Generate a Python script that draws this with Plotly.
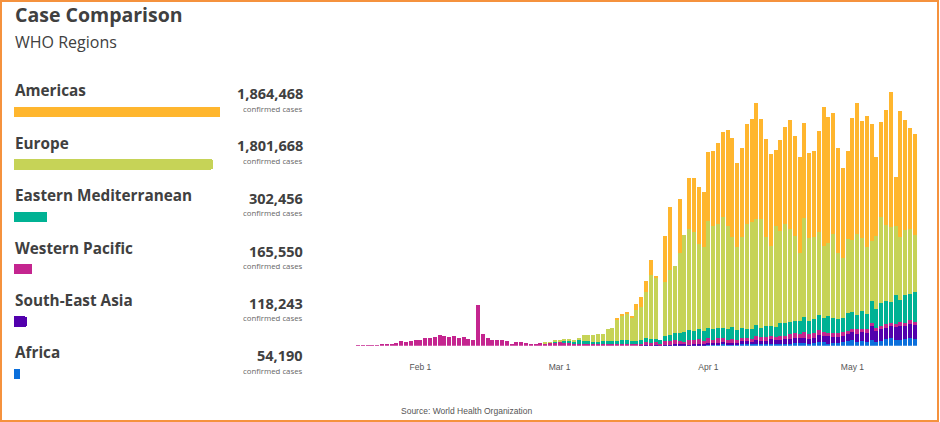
"""Case comparison by WHO region: totals on the left, daily new cases stacked on the right.

The source shows no y axis, so the daily values are relative heights read off
the picture. Each series lists its values up to the last day, May 14.
"""
import pandas as pd
import plotly.graph_objects as go

W, H = 940, 422

regions = ["Americas", "Europe", "Eastern Mediterranean", "Western Pacific",
           "South-East Asia", "Africa"]
totals = [1864468, 1801668, 302456, 165550, 118243, 54190]
colors = ["#FFB62E", "#C6D357", "#00B294", "#C4258F", "#5200AD", "#0B6FDB"]

dates = pd.date_range("2020-01-19", "2020-05-14", freq="D")
tick_dates = ["2020-02-01", "2020-03-01", "2020-04-01", "2020-05-01"]
tick_labels = ["Feb 1", "Mar 1", "Apr 1", "May 1"]

# from Mar 18
africa = [1, 1, 1, 1, 1, 1, 1, 2, 2, 2, 2, 2, 2, 2,
          3, 3, 3, 4, 3, 3, 3, 4, 4, 4, 4, 4, 4, 4, 4,
          4, 5, 5, 7, 7, 7, 5, 7, 12, 11, 5, 9, 7, 10, 14,
          17, 11, 13, 11, 17, 12, 14, 20, 23, 18, 17, 20, 22, 20]
# from Mar 18
se_asia = [1, 1, 1, 2, 1, 2, 2, 3, 2, 2, 1, 4, 3, 3,
           5, 4, 5, 6, 4, 5, 4, 11, 10, 8, 13, 10, 11, 16, 13,
           13, 14, 15, 15, 17, 17, 15, 15, 20, 18, 23, 17, 19, 20, 20,
           23, 24, 28, 28, 42, 33, 35, 34, 37, 37, 43, 39, 43, 42]
# from Jan 19
w_pacific = [1, 1, 1, 2, 2, 3, 5, 6, 8,
             14, 12, 15, 17, 17, 22, 24, 27, 32, 30, 26, 29, 22, 25, 20, 17, 122,
             34, 23, 17, 18, 17, 15, 6, 10, 11, 8, 5, 6, 7, 8, 9, 11,
             12, 9, 7, 6, 6, 5, 5, 5, 4, 4, 5, 4, 4, 4, 4, 4, 5,
             3, 9, 5, 7, 3, 10, 10, 11, 9, 8, 14, 12, 14, 9,
             15, 9, 14, 14, 11, 12, 11, 9, 10, 7, 12, 12, 11, 9, 9,
             12, 11, 14, 15, 11, 17, 15, 15, 15, 13, 11, 12, 12, 10, 9,
             9, 14, 8, 10, 8, 9, 11, 11, 8, 10, 11, 9, 11, 9]
# from Feb 29
e_med = [2,
         2, 7, 9, 8, 12, 10, 10, 7, 6, 9, 9, 10, 11, 13, 13, 10, 10,
         12, 11, 13, 10, 12, 16, 19, 23, 24, 29, 31, 27, 31, 31,
         30, 33, 31, 29, 33, 35, 30, 30, 25, 31, 33, 28, 33, 30, 30,
         38, 38, 36, 37, 38, 44, 38, 42, 45, 42, 49, 44, 42, 43, 54,
         52, 42, 56, 45, 68, 56, 68, 69, 63, 87, 66, 84, 78, 90]
# from Feb 27
europe = [3, 2, 2,
          2, 3, 3, 4, 5, 16, 16, 20, 24, 23, 36, 38, 64, 75, 80, 72, 92,
          98, 140, 192, 184, 0, 161, 194, 201, 240, 291, 302, 295, 254, 250,
          322, 310, 312, 332, 308, 272, 248, 271, 316, 321, 317, 325, 266, 241, 304,
          278, 296, 280, 255, 204, 299, 249, 247, 248, 215, 219, 252, 197, 181, 223,
          216, 245, 218, 203, 180, 219, 259, 228, 224, 207, 190, 194, 196, 170]
# from Mar 13
americas = [3, 2, 3, 1, 18,
            32, 32, 45, 5, 0, 139, 190, 0, 162, 0, 153, 163, 171, 167,
            207, 225, 244, 256, 288, 295, 253, 268, 299, 308, 349, 300, 295, 275, 227,
            272, 293, 327, 301, 288, 283, 257, 258, 304, 417, 379, 365, 315, 268, 265,
            365, 391, 351, 393, 350, 237, 285, 345, 406, 147, 378, 331, 303, 304]

daily = [americas, europe, e_med, w_pacific, se_asia, africa]

TEXT = "#404040"
FONT = "Open Sans"
SMALL_FONT = "Liberation Sans"
name_y = [90, 143, 195, 248, 300, 352]
total_y = [93, 145, 198, 251, 303, 355]
caption_y = [109, 161, 213, 266, 318, 371]


def px(x):
    return x / W


def py(y):
    return 1 - y / H


def label(x, y, text, size, color=TEXT, bold=False, anchor="left", family=FONT):
    fig.add_annotation(
        x=px(x), y=py(y), xref="paper", yref="paper", text=f"<b>{text}</b>" if bold else text,
        showarrow=False, xanchor=anchor, yanchor="middle",
        font=dict(family=family, size=size, color=color))


fig = go.Figure()

# bottom of the stack is drawn first, so walk the regions from Africa up
for name, vals, color in reversed(list(zip(regions, daily, colors))):
    fig.add_trace(go.Bar(
        x=dates[-len(vals):], y=vals, name=name, marker=dict(color=color, line_width=0),
        xaxis="x", yaxis="y"))

fig.add_trace(go.Bar(
    x=totals, y=regions, orientation="h", xaxis="x2", yaxis="y2", width=0.2,
    marker=dict(color=colors, line_width=0, cornerradius=2)))

fig.update_layout(
    width=W, height=H, autosize=False, margin=dict(l=0, r=0, t=0, b=0),
    paper_bgcolor="white", plot_bgcolor="white", showlegend=False,
    barmode="stack", bargap=0.2,
    xaxis=dict(domain=[px(350), px(920)], anchor="y", type="date",
               range=["2020-01-17 08:00", "2020-05-15 02:00"],
               tickmode="array", tickvals=tick_dates, ticktext=tick_labels,
               showgrid=False, zeroline=False, showline=False,
               ticks="outside", ticklen=13, tickcolor="white",
               tickfont=dict(family=SMALL_FONT, size=8.5, color="#555555")),
    yaxis=dict(domain=[py(345.7), py(80)], anchor="x", range=[0, 797], visible=False),
    xaxis2=dict(domain=[px(14), px(220)], anchor="y2", range=[0, 1864468], visible=False),
    yaxis2=dict(domain=[py(400.2), py(85.8)], anchor="x2", visible=False,
                type="category", categoryorder="array",
                categoryarray=regions[::-1]),
)

label(13, 14, "Case Comparison", 19.5, bold=True)
label(13, 42, "WHO Regions", 16)
for i, name in enumerate(regions):
    label(13, name_y[i], name, 15.3, bold=True)
    label(305, total_y[i], f"{totals[i]:,}", 14.5, bold=True, anchor="right")
    label(305, caption_y[i], "confirmed cases", 7.8, color="#666666", anchor="right")
label(466, 411, "Source: World Health Organization", 8.5, color="#555555",
      anchor="center", family=SMALL_FONT)

fig.add_shape(type="rect", xref="paper", yref="paper", x0=px(1), x1=px(W - 2),
              y0=py(H - 1), y1=py(1), line=dict(color="#F5923E", width=2),
              fillcolor="rgba(0,0,0,0)")

# the page's default body margin would push the fixed-size figure out of the window
fig.write_html("out.html", config={"displayModeBar": False},
               post_script="document.body.style.margin = '0';")
